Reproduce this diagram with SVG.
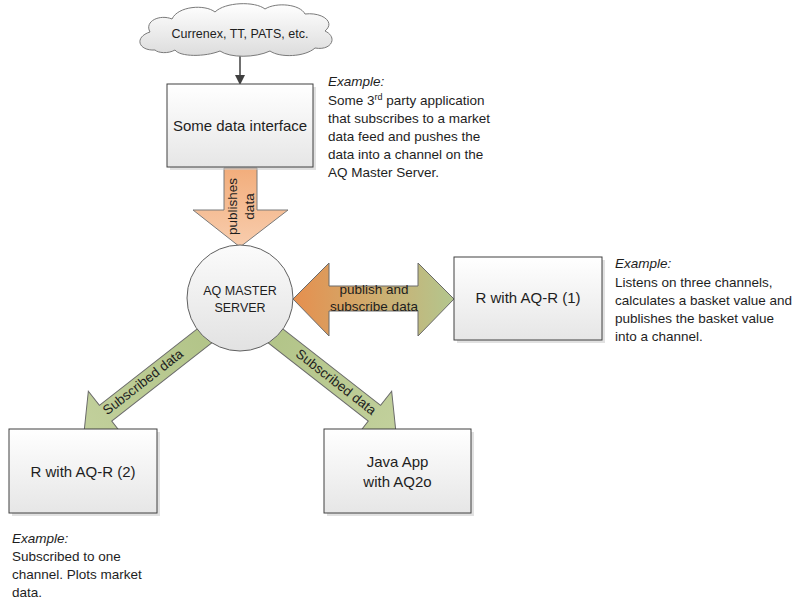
<svg xmlns="http://www.w3.org/2000/svg" width="800" height="600" viewBox="0 0 800 600">
<defs>
<linearGradient id="gBox" x1="0" y1="0" x2="0" y2="1"><stop offset="0" stop-color="#ffffff"/><stop offset="1" stop-color="#e6e6e6"/></linearGradient>
<linearGradient id="gCircle" x1="0" y1="0" x2="0" y2="1"><stop offset="0" stop-color="#fbfbfb"/><stop offset="1" stop-color="#e2e2e2"/></linearGradient>
<linearGradient id="gCloud" x1="0" y1="0" x2="0" y2="1"><stop offset="0" stop-color="#ffffff"/><stop offset="1" stop-color="#dcdcdc"/></linearGradient>
<linearGradient id="gOrange" x1="0" y1="0" x2="0" y2="1"><stop offset="0" stop-color="#f2ad7b"/><stop offset="1" stop-color="#f8cdae"/></linearGradient>
<linearGradient id="gDouble" x1="0" y1="0" x2="1" y2="0"><stop offset="0" stop-color="#e68f4e"/><stop offset="0.5" stop-color="#cfac6e"/><stop offset="1" stop-color="#b3c68e"/></linearGradient>
<linearGradient id="gGreen" x1="0" y1="0" x2="1" y2="0"><stop offset="0" stop-color="#b2c488"/><stop offset="1" stop-color="#c2d09c"/></linearGradient>
</defs>
<style>
text{font-family:"Liberation Sans",Arial,sans-serif;fill:#1e1e1e}
.box{fill:url(#gBox);stroke:#404040;stroke-width:1}
.shadow{fill:#c8c8c8;opacity:0.55}
.lbl{font-size:15px;text-anchor:middle}
.note{font-size:13.5px}
.it{font-style:italic}
.alab{font-size:13.5px;text-anchor:middle}
.green{fill:url(#gGreen);stroke:#6a6a6a;stroke-width:1}
</style>

<g id="connectors">
  <g id="cloud-to-interface">
    <line x1="240" y1="55" x2="240" y2="76" stroke="#404040" stroke-width="1.5"/>
    <polygon points="235,75 245,75 240,85" fill="#404040"/>
  </g>
  <g id="publishes-data">
    <polygon points="224,168 257,168 257,210 288,210 240,247 193,210 224,210" fill="url(#gOrange)" stroke="#7a7a7a" stroke-width="1"/>
    <text class="alab" transform="translate(232,206.5) rotate(-90)" dominant-baseline="central">publishes</text>
    <text class="alab" transform="translate(249,206.5) rotate(-90)" dominant-baseline="central">data</text>
  </g>
  <g id="publish-subscribe">
    <polygon points="293,299 329,263 329,286 418,286 418,263 454,299 418,336 418,311 329,311 329,336" fill="url(#gDouble)" stroke="#6a6a6a" stroke-width="1"/>
    <text class="alab" x="374" y="294">publish and</text>
    <text class="alab" x="374" y="311">subscribe data</text>
  </g>
  <g id="subscribed-left">
    <polygon class="green" transform="translate(202.5,337.5) rotate(142)" points="-8,-10 123,-10 123,-28 150,0 123,28 123,10 -8,10"/>
    <text class="alab" transform="translate(143,382) rotate(-38)" dominant-baseline="central">Subscribed data</text>
  </g>
  <g id="subscribed-right">
    <polygon class="green" transform="translate(277.5,337.5) rotate(38)" points="-8,-10 123,-10 123,-28 150,0 123,28 123,10 -8,10"/>
    <text class="alab" transform="translate(336,382) rotate(38)" dominant-baseline="central">Subscribed data</text>
  </g>
</g>

<g id="cloud">
  <path d="M155,50 C138,51 134,37 150,32 C144,21 160,14 172,19 C178,6 205,4 215,12 C225,2 255,1 265,9 C276,2 300,4 305,14 C322,12 336,22 325,31 C338,37 332,51 315,48 C305,57 280,58 270,51 C255,58 230,58 220,51 C205,57 180,57 175,50 C168,54 158,53 155,50 Z" fill="url(#gCloud)" stroke="#7a7a7a" stroke-width="1"/>
  <text x="240" y="37.5" text-anchor="middle" font-size="12.5">Currenex, TT, PATS, etc.</text>
</g>

<g id="data-interface">
  <rect class="shadow" x="170" y="87" width="146" height="83"/>
  <rect class="box" x="167" y="84" width="146" height="83"/>
  <text class="lbl" x="240" y="131">Some data interface</text>
</g>

<g id="master-server">
  <circle cx="240" cy="298" r="53" fill="url(#gCircle)" stroke="#606060" stroke-width="1"/>
  <text x="240" y="294.5" text-anchor="middle" font-size="12.5">AQ MASTER</text>
  <text x="240" y="311.5" text-anchor="middle" font-size="12.5">SERVER</text>
</g>

<g id="r-aqr-1">
  <rect class="shadow" x="457" y="260" width="148" height="83"/>
  <rect class="box" x="454" y="257" width="148" height="83"/>
  <text class="lbl" x="528" y="303">R with AQ-R (1)</text>
</g>

<g id="r-aqr-2">
  <rect class="shadow" x="12" y="432" width="148" height="84"/>
  <rect class="box" x="9" y="429" width="148" height="84"/>
  <text class="lbl" x="83" y="477">R with AQ-R (2)</text>
</g>

<g id="java-app">
  <rect class="shadow" x="327" y="432" width="147" height="84"/>
  <rect class="box" x="324" y="429" width="147" height="84"/>
  <text class="lbl" x="397.5" y="467">Java App</text>
  <text class="lbl" x="397.5" y="487">with AQ2o</text>
</g>

<g id="note-interface" class="note">
  <text class="note it" x="328" y="86">Example:</text>
  <text class="note" x="328" y="104.5">Some 3<tspan font-size="9" dy="-5">rd</tspan><tspan dy="5"> party application</tspan></text>
  <text class="note" x="328" y="122.5">that subscribes to a market</text>
  <text class="note" x="328" y="140.5">data feed and pushes the</text>
  <text class="note" x="328" y="158.5">data into a channel on the</text>
  <text class="note" x="328" y="176.5">AQ Master Server.</text>
</g>

<g id="note-r1">
  <text class="note it" x="615" y="268">Example:</text>
  <text class="note" x="615" y="286.5">Listens on three channels,</text>
  <text class="note" x="615" y="304.5">calculates a basket value and</text>
  <text class="note" x="615" y="322.5">publishes the basket value</text>
  <text class="note" x="615" y="340.5">into a channel.</text>
</g>

<g id="note-r2">
  <text class="note it" x="12" y="543">Example:</text>
  <text class="note" x="12" y="561">Subscribed to one</text>
  <text class="note" x="12" y="579">channel. Plots market</text>
  <text class="note" x="12" y="597">data.</text>
</g>
</svg>
